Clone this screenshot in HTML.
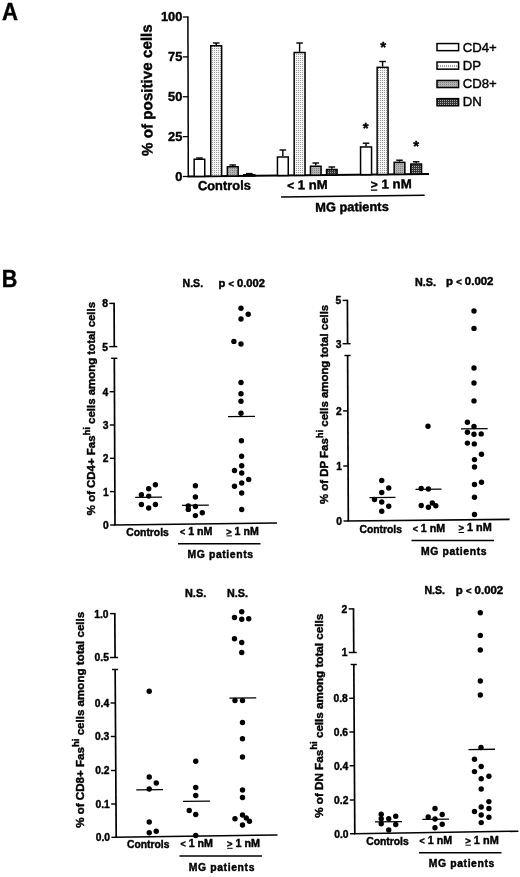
<!DOCTYPE html>
<html lang="en"><head><meta charset="utf-8"><title>Figure</title>
<style>
html,body{margin:0;padding:0;background:#fff;}
svg{display:block;}
text{font-family:"Liberation Sans",Arial,Helvetica,sans-serif;fill:#000;stroke:#000;stroke-width:0.42px;}
text.n{stroke-width:0.4px;}
</style></head>
<body>
<svg width="520" height="877" viewBox="0 0 520 877">
<defs>
<filter id="soft" x="0" y="0" width="520" height="877" filterUnits="userSpaceOnUse"><feGaussianBlur stdDeviation="0.4"/></filter>
<pattern id="pdp" width="2" height="2" patternUnits="userSpaceOnUse"><rect width="2" height="2" fill="#f4f4f4"/><rect width="1" height="1" fill="#9a9a9a"/></pattern>
<pattern id="pc8" width="2" height="2" patternUnits="userSpaceOnUse"><rect width="2" height="2" fill="#b2b2b2"/><rect width="1" height="1" fill="#808080"/></pattern>
<pattern id="ldp" width="2" height="9" patternUnits="userSpaceOnUse" y="61"><rect width="2" height="9" fill="#fbfbfb"/><rect y="4" width="1" height="2" fill="#a0a0a0"/></pattern>
<pattern id="pdn" width="2" height="2" patternUnits="userSpaceOnUse"><rect width="2" height="2" fill="#363636"/><rect width="1" height="1" fill="#a8a8a8"/></pattern>
</defs>
<rect width="520" height="877" fill="#fff"/>
<g filter="url(#soft)">
<text x="1.9" y="20.4" font-size="24.3" font-weight="bold" text-anchor="start" textLength="16" lengthAdjust="spacingAndGlyphs" >A</text>
<line x1="187.9" y1="16.4" x2="188.3" y2="176.5" stroke="#000" stroke-width="1.5"/>
<line x1="182.8" y1="176.5" x2="188.3" y2="176.5" stroke="#000" stroke-width="1.3"/>
<text x="182.3" y="180.9" font-size="12.8" font-weight="bold" text-anchor="end" >0</text>
<line x1="182.8" y1="136.625" x2="188.3" y2="136.625" stroke="#000" stroke-width="1.3"/>
<text x="182.3" y="141.025" font-size="12.8" font-weight="bold" text-anchor="end" >25</text>
<line x1="182.8" y1="96.75" x2="188.3" y2="96.75" stroke="#000" stroke-width="1.3"/>
<text x="182.3" y="101.15" font-size="12.8" font-weight="bold" text-anchor="end" >50</text>
<line x1="182.8" y1="56.875" x2="188.3" y2="56.875" stroke="#000" stroke-width="1.3"/>
<text x="182.3" y="61.275" font-size="12.8" font-weight="bold" text-anchor="end" >75</text>
<line x1="182.8" y1="17.0" x2="188.3" y2="17.0" stroke="#000" stroke-width="1.3"/>
<text x="182.3" y="21.4" font-size="12.8" font-weight="bold" text-anchor="end" >100</text>
<text transform="translate(152.6,156) rotate(-90.4)" font-size="15.2" font-weight="bold" textLength="131.8" lengthAdjust="spacingAndGlyphs">% of positive cells</text>
<line x1="187.60000000000002" y1="176.49688" x2="429" y2="173.9936" stroke="#000" stroke-width="1.9"/>
<line x1="199.45" y1="158" x2="199.45" y2="158.5" stroke="#000" stroke-width="1.4"/>
<line x1="196.14999999999998" y1="158" x2="202.75" y2="158" stroke="#000" stroke-width="1.4"/>
<rect x="194.15" y="159.25" width="10.60" height="17.13" fill="#fff" stroke="#000" stroke-width="1.5"/>
<line x1="216.2" y1="43" x2="216.2" y2="45" stroke="#000" stroke-width="1.4"/>
<line x1="212.89999999999998" y1="43" x2="219.5" y2="43" stroke="#000" stroke-width="1.4"/>
<rect x="210.75" y="45.75" width="10.90" height="130.46" fill="url(#pdp)" stroke="#000" stroke-width="1.5"/>
<line x1="232.75" y1="165" x2="232.75" y2="166" stroke="#000" stroke-width="1.4"/>
<line x1="229.45" y1="165" x2="236.05" y2="165" stroke="#000" stroke-width="1.4"/>
<rect x="227.35" y="166.75" width="10.80" height="9.28" fill="url(#pc8)" stroke="#000" stroke-width="1.5"/>
<line x1="249.25" y1="173.6" x2="249.25" y2="174" stroke="#000" stroke-width="1.4"/>
<line x1="245.95" y1="173.6" x2="252.55" y2="173.6" stroke="#000" stroke-width="1.4"/>
<rect x="243.75" y="174.75" width="11.00" height="1.11" fill="url(#pdn)" stroke="#000" stroke-width="1.5"/>
<line x1="282.85" y1="150" x2="282.85" y2="156.25" stroke="#000" stroke-width="1.4"/>
<line x1="279.55" y1="150" x2="286.15000000000003" y2="150" stroke="#000" stroke-width="1.4"/>
<rect x="277.45" y="157.0" width="10.80" height="18.51" fill="#fff" stroke="#000" stroke-width="1.5"/>
<line x1="299.6" y1="43" x2="299.6" y2="51.75" stroke="#000" stroke-width="1.4"/>
<line x1="296.3" y1="43" x2="302.90000000000003" y2="43" stroke="#000" stroke-width="1.4"/>
<rect x="294.15" y="52.5" width="10.90" height="122.84" fill="url(#pdp)" stroke="#000" stroke-width="1.5"/>
<line x1="315.75" y1="163" x2="315.75" y2="165.5" stroke="#000" stroke-width="1.4"/>
<line x1="312.45" y1="163" x2="319.05" y2="163" stroke="#000" stroke-width="1.4"/>
<rect x="310.45" y="166.25" width="10.60" height="8.92" fill="url(#pc8)" stroke="#000" stroke-width="1.5"/>
<line x1="331.8" y1="167" x2="331.8" y2="168.75" stroke="#000" stroke-width="1.4"/>
<line x1="328.5" y1="167" x2="335.1" y2="167" stroke="#000" stroke-width="1.4"/>
<rect x="326.55" y="169.5" width="10.50" height="5.50" fill="url(#pdn)" stroke="#000" stroke-width="1.5"/>
<line x1="366.05" y1="143.2" x2="366.05" y2="146.2" stroke="#000" stroke-width="1.4"/>
<line x1="362.75" y1="143.2" x2="369.35" y2="143.2" stroke="#000" stroke-width="1.4"/>
<rect x="360.55" y="146.95" width="11.00" height="27.70" fill="#fff" stroke="#000" stroke-width="1.5"/>
<line x1="382.6" y1="61.5" x2="382.6" y2="66.6" stroke="#000" stroke-width="1.4"/>
<line x1="379.3" y1="61.5" x2="385.90000000000003" y2="61.5" stroke="#000" stroke-width="1.4"/>
<rect x="377.15" y="67.35" width="10.90" height="107.13" fill="url(#pdp)" stroke="#000" stroke-width="1.5"/>
<line x1="399.5" y1="160.2" x2="399.5" y2="161.6" stroke="#000" stroke-width="1.4"/>
<line x1="396.2" y1="160.2" x2="402.8" y2="160.2" stroke="#000" stroke-width="1.4"/>
<rect x="394.15" y="162.35" width="10.70" height="11.95" fill="url(#pc8)" stroke="#000" stroke-width="1.5"/>
<line x1="416.15" y1="161.8" x2="416.15" y2="163.3" stroke="#000" stroke-width="1.4"/>
<line x1="412.84999999999997" y1="161.8" x2="419.45" y2="161.8" stroke="#000" stroke-width="1.4"/>
<rect x="410.75" y="164.05" width="10.80" height="10.08" fill="url(#pdn)" stroke="#000" stroke-width="1.5"/>
<text x="365.7" y="133.0" font-size="15" font-weight="bold" text-anchor="middle" stroke-width="0.7">*</text>
<text x="383.2" y="52.099999999999994" font-size="15" font-weight="bold" text-anchor="middle" stroke-width="0.7">*</text>
<text x="416.2" y="151.3" font-size="15" font-weight="bold" text-anchor="middle" stroke-width="0.7">*</text>
<text x="197.9" y="190.3" font-size="13.1" font-weight="bold" text-anchor="start" textLength="53" lengthAdjust="spacingAndGlyphs" transform="rotate(-0.6 198 190)">Controls</text>
<text x="287.3" y="189.4" font-size="12.8" font-weight="bold" text-anchor="start" textLength="40.5" lengthAdjust="spacingAndGlyphs" transform="rotate(-0.6 287 189)"><tspan font-size="11.5">&lt;</tspan> 1 nM</text>
<text x="370.8" y="188.5" font-size="12.8" font-weight="bold" text-anchor="start" textLength="41" lengthAdjust="spacingAndGlyphs" transform="rotate(-0.6 371 188.5)"><tspan font-size="11.5">&gt;</tspan> 1 nM</text>
<line x1="371" y1="190.2" x2="377.3" y2="190.1" stroke="#000" stroke-width="1.2"/>
<line x1="281" y1="197" x2="424.7" y2="195.2" stroke="#000" stroke-width="1.6"/>
<text x="315.2" y="211.7" font-size="12.8" font-weight="bold" text-anchor="start" textLength="73.6" lengthAdjust="spacingAndGlyphs" transform="rotate(-0.6 315 212)">MG patients</text>
<rect x="437" y="43.55" width="21.6" height="7.1" fill="#fff" stroke="#000" stroke-width="1.5"/>
<text x="462.7" y="51.6" font-size="13.2" font-weight="normal" text-anchor="start" class="n">CD4+</text>
<rect x="437" y="62.05" width="21.6" height="7.1" fill="url(#ldp)" stroke="#000" stroke-width="1.5"/>
<text x="462.7" y="69.80000000000001" font-size="13.2" font-weight="normal" text-anchor="start" class="n">DP</text>
<rect x="437" y="80.45" width="21.6" height="7.1" fill="url(#pc8)" stroke="#000" stroke-width="1.5"/>
<text x="462.7" y="88.10000000000001" font-size="13.2" font-weight="normal" text-anchor="start" class="n">CD8+</text>
<rect x="437" y="98.65" width="21.6" height="7.1" fill="url(#pdn)" stroke="#000" stroke-width="1.5"/>
<text x="462.7" y="106.4" font-size="13.2" font-weight="normal" text-anchor="start" class="n">DN</text>
<text x="1.7" y="286.8" font-size="24.6" font-weight="bold" text-anchor="start" textLength="15.6" lengthAdjust="spacingAndGlyphs" >B</text>
<line x1="114.32113122171945" y1="358.3" x2="115.0" y2="525" stroke="#000" stroke-width="1.7"/>
<line x1="111.12113122171945" y1="358.3" x2="117.32113122171945" y2="358.3" stroke="#000" stroke-width="1.45"/>
<line x1="110.2" y1="525" x2="115.0" y2="525" stroke="#000" stroke-width="1.45"/>
<text x="108.8" y="528.9" font-size="10.3" font-weight="bold" text-anchor="end" >0</text>
<line x1="110.06398190045249" y1="491.6" x2="114.86398190045249" y2="491.6" stroke="#000" stroke-width="1.45"/>
<text x="108.66" y="495.5" font-size="10.3" font-weight="bold" text-anchor="end" >1</text>
<line x1="109.92837104072399" y1="458.3" x2="114.72837104072399" y2="458.3" stroke="#000" stroke-width="1.45"/>
<text x="108.53" y="462.2" font-size="10.3" font-weight="bold" text-anchor="end" >2</text>
<line x1="109.79276018099547" y1="425" x2="114.59276018099547" y2="425" stroke="#000" stroke-width="1.45"/>
<text x="108.39" y="428.9" font-size="10.3" font-weight="bold" text-anchor="end" >3</text>
<line x1="109.65714932126697" y1="391.7" x2="114.45714932126697" y2="391.7" stroke="#000" stroke-width="1.45"/>
<text x="108.26" y="395.59999999999997" font-size="10.3" font-weight="bold" text-anchor="end" >4</text>
<line x1="114.09755656108597" y1="302.79999999999995" x2="114.27348416289593" y2="346.6" stroke="#000" stroke-width="1.7"/>
<line x1="109.29755656108597" y1="303.4" x2="114.09755656108597" y2="303.4" stroke="#000" stroke-width="1.45"/>
<text x="107.9" y="307.29999999999995" font-size="10.3" font-weight="bold" text-anchor="end" >8</text>
<line x1="109.27348416289593" y1="346.6" x2="117.27348416289593" y2="346.6" stroke="#000" stroke-width="1.45"/>
<text x="108.07" y="350.5" font-size="10.3" font-weight="bold" text-anchor="end" >5</text>
<line x1="114.2" y1="525" x2="277" y2="523" stroke="#000" stroke-width="1.6"/>
<text transform="translate(95,515.2) rotate(-90)" font-size="11.4" font-weight="bold" textLength="213.3" lengthAdjust="spacingAndGlyphs">% of CD4+ Fas<tspan dy="-5.2" font-size="9.4">hi</tspan><tspan dy="5.2"> cells among total cells</tspan></text>
<circle cx="155.4" cy="484.8" r="2.7"/>
<circle cx="148.7" cy="488.7" r="2.7"/>
<circle cx="141.4" cy="494.8" r="2.7"/>
<circle cx="148.7" cy="496.1" r="2.7"/>
<circle cx="141.4" cy="504.5" r="2.7"/>
<circle cx="155.4" cy="504.5" r="2.7"/>
<circle cx="148.7" cy="508" r="2.7"/>
<line x1="135.2" y1="497.45" x2="162" y2="497.15000000000003" stroke="#000" stroke-width="1.35"/>
<circle cx="195.4" cy="485.8" r="2.7"/>
<circle cx="195.4" cy="497" r="2.7"/>
<circle cx="188.3" cy="506" r="2.7"/>
<circle cx="195.4" cy="506.5" r="2.7"/>
<circle cx="188.3" cy="509.4" r="2.7"/>
<circle cx="202.3" cy="512.7" r="2.7"/>
<circle cx="195.4" cy="515.6" r="2.7"/>
<line x1="182" y1="505.34999999999997" x2="208.8" y2="505.05" stroke="#000" stroke-width="1.35"/>
<circle cx="241" cy="308.3" r="2.7"/>
<circle cx="248.2" cy="314.2" r="2.7"/>
<circle cx="241" cy="319" r="2.7"/>
<circle cx="233.9" cy="341.4" r="2.7"/>
<circle cx="241" cy="344" r="2.7"/>
<circle cx="241" cy="382.5" r="2.7"/>
<circle cx="241" cy="393.8" r="2.7"/>
<circle cx="241" cy="401.3" r="2.7"/>
<circle cx="241" cy="413.3" r="2.7"/>
<circle cx="241.4" cy="440.8" r="2.7"/>
<circle cx="241.6" cy="456.2" r="2.7"/>
<circle cx="241.7" cy="465.7" r="2.7"/>
<circle cx="234.5" cy="470.5" r="2.7"/>
<circle cx="241.7" cy="473" r="2.7"/>
<circle cx="248.7" cy="479.5" r="2.7"/>
<circle cx="241.7" cy="483" r="2.7"/>
<circle cx="234.5" cy="486.3" r="2.7"/>
<circle cx="241.7" cy="493" r="2.7"/>
<circle cx="241.7" cy="509.5" r="2.7"/>
<line x1="228" y1="416.65" x2="255" y2="416.35" stroke="#000" stroke-width="1.35"/>
<text x="126.3" y="535.7" font-size="10.4" font-weight="bold" text-anchor="start" textLength="42.5" lengthAdjust="spacingAndGlyphs" >Controls</text>
<text x="180" y="534.8" font-size="10.4" font-weight="bold" text-anchor="start" textLength="32.5" lengthAdjust="spacingAndGlyphs" ><tspan font-size="8.6">&lt;</tspan> 1 nM</text>
<text x="226.3" y="534.6" font-size="10.4" font-weight="bold" text-anchor="start" textLength="32.5" lengthAdjust="spacingAndGlyphs" ><tspan font-size="9">&gt;</tspan> 1 nM</text>
<line x1="226.5" y1="535.9" x2="231.9" y2="535.9" stroke="#000" stroke-width="1.0"/>
<line x1="178" y1="543.8" x2="260.5" y2="543.8" stroke="#000" stroke-width="1.5"/>
<text x="187.5" y="557.5" font-size="10.4" font-weight="bold" textLength="65.5" lengthAdjust="spacing">MG patients</text>
<text x="182.5" y="287" font-size="10.4" font-weight="bold" text-anchor="start" textLength="20.6" lengthAdjust="spacingAndGlyphs" >N.S.</text>
<text x="218.6" y="286.8" font-size="10.4" font-weight="bold" text-anchor="start" textLength="46.4" lengthAdjust="spacingAndGlyphs" >p <tspan font-size="8.6">&lt;</tspan> 0.002</text>
<line x1="347.6260180995475" y1="355.5" x2="348.3" y2="521" stroke="#000" stroke-width="1.7"/>
<line x1="344.4260180995475" y1="355.5" x2="350.6260180995475" y2="355.5" stroke="#000" stroke-width="1.45"/>
<line x1="343.5" y1="521" x2="348.3" y2="521" stroke="#000" stroke-width="1.45"/>
<text x="342.1" y="524.9" font-size="10.3" font-weight="bold" text-anchor="end" >0</text>
<line x1="343.2760180995475" y1="466" x2="348.0760180995475" y2="466" stroke="#000" stroke-width="1.45"/>
<text x="341.88" y="469.9" font-size="10.3" font-weight="bold" text-anchor="end" >1</text>
<line x1="343.051628959276" y1="410.9" x2="347.851628959276" y2="410.9" stroke="#000" stroke-width="1.45"/>
<text x="341.65" y="414.79999999999995" font-size="10.3" font-weight="bold" text-anchor="end" >2</text>
<line x1="347.40162895927597" y1="299.79999999999995" x2="347.57796380090497" y2="343.7" stroke="#000" stroke-width="1.7"/>
<line x1="342.60162895927596" y1="300.4" x2="347.40162895927597" y2="300.4" stroke="#000" stroke-width="1.45"/>
<text x="341.2" y="304.29999999999995" font-size="10.3" font-weight="bold" text-anchor="end" >5</text>
<line x1="342.57796380090497" y1="343.7" x2="350.57796380090497" y2="343.7" stroke="#000" stroke-width="1.45"/>
<text x="341.38" y="347.59999999999997" font-size="10.3" font-weight="bold" text-anchor="end" >3</text>
<line x1="347.5" y1="521" x2="509.6" y2="519.4" stroke="#000" stroke-width="1.6"/>
<text transform="translate(328.3,504) rotate(-90)" font-size="11.4" font-weight="bold" textLength="199.2" lengthAdjust="spacingAndGlyphs">% of DP Fas<tspan dy="-5.2" font-size="9.4">hi</tspan><tspan dy="5.2"> cells among total cells</tspan></text>
<circle cx="381.75" cy="480.5" r="2.7"/>
<circle cx="388.75" cy="488" r="2.7"/>
<circle cx="381.75" cy="492.5" r="2.7"/>
<circle cx="374.5" cy="499.5" r="2.7"/>
<circle cx="381.75" cy="502" r="2.7"/>
<circle cx="388.75" cy="506.25" r="2.7"/>
<circle cx="381.75" cy="511.25" r="2.7"/>
<line x1="369.5" y1="497.65" x2="395.5" y2="497.35" stroke="#000" stroke-width="1.35"/>
<circle cx="428" cy="426.2" r="2.7"/>
<circle cx="421.2" cy="488.5" r="2.7"/>
<circle cx="428.4" cy="489" r="2.7"/>
<circle cx="421.2" cy="505.5" r="2.7"/>
<circle cx="428.4" cy="507.2" r="2.7"/>
<circle cx="432.3" cy="503" r="2.7"/>
<circle cx="435.8" cy="505.7" r="2.7"/>
<line x1="415.5" y1="489.34999999999997" x2="441.5" y2="489.05" stroke="#000" stroke-width="1.35"/>
<circle cx="474" cy="311" r="2.7"/>
<circle cx="474" cy="328.4" r="2.7"/>
<circle cx="474" cy="368" r="2.7"/>
<circle cx="474" cy="383" r="2.7"/>
<circle cx="474" cy="400.9" r="2.7"/>
<circle cx="467.4" cy="422.3" r="2.7"/>
<circle cx="474" cy="426.5" r="2.7"/>
<circle cx="467.4" cy="432.2" r="2.7"/>
<circle cx="474" cy="434.3" r="2.7"/>
<circle cx="481.2" cy="433.9" r="2.7"/>
<circle cx="467.4" cy="443.1" r="2.7"/>
<circle cx="474.3" cy="443.9" r="2.7"/>
<circle cx="481.5" cy="454.3" r="2.7"/>
<circle cx="474.5" cy="459.6" r="2.7"/>
<circle cx="474.5" cy="467" r="2.7"/>
<circle cx="481.5" cy="482.2" r="2.7"/>
<circle cx="474.5" cy="484.5" r="2.7"/>
<circle cx="474.5" cy="497.2" r="2.7"/>
<circle cx="474.5" cy="514.5" r="2.7"/>
<line x1="461" y1="428.95" x2="487.7" y2="428.65000000000003" stroke="#000" stroke-width="1.35"/>
<text x="359.5" y="532.5" font-size="10.4" font-weight="bold" text-anchor="start" textLength="42.5" lengthAdjust="spacingAndGlyphs" >Controls</text>
<text x="412.7" y="531.5" font-size="10.4" font-weight="bold" text-anchor="start" textLength="32.5" lengthAdjust="spacingAndGlyphs" ><tspan font-size="8.6">&lt;</tspan> 1 nM</text>
<text x="458.5" y="531.2" font-size="10.4" font-weight="bold" text-anchor="start" textLength="33.3" lengthAdjust="spacingAndGlyphs" ><tspan font-size="9">&gt;</tspan> 1 nM</text>
<line x1="458.7" y1="532.5" x2="464.1" y2="532.5" stroke="#000" stroke-width="1.0"/>
<line x1="411.5" y1="540.6" x2="494" y2="540.6" stroke="#000" stroke-width="1.5"/>
<text x="421" y="555" font-size="10.4" font-weight="bold" textLength="65.5" lengthAdjust="spacing">MG patients</text>
<text x="415" y="285.8" font-size="10.4" font-weight="bold" text-anchor="start" textLength="21" lengthAdjust="spacingAndGlyphs" >N.S.</text>
<text x="446" y="285.3" font-size="10.4" font-weight="bold" text-anchor="start" textLength="47.5" lengthAdjust="spacingAndGlyphs" >p <tspan font-size="8.6">&lt;</tspan> 0.002</text>
<line x1="115.153125" y1="669.5" x2="116.201875" y2="837.3" stroke="#000" stroke-width="1.7"/>
<line x1="111.953125" y1="669.5" x2="118.153125" y2="669.5" stroke="#000" stroke-width="1.45"/>
<line x1="111.401875" y1="837.3" x2="116.201875" y2="837.3" stroke="#000" stroke-width="1.45"/>
<text x="110.0" y="841.1999999999999" font-size="10.3" font-weight="bold" text-anchor="end" >0.0</text>
<line x1="111.19375000000001" y1="804" x2="115.99375" y2="804" stroke="#000" stroke-width="1.45"/>
<text x="109.79" y="807.9" font-size="10.3" font-weight="bold" text-anchor="end" >0.1</text>
<line x1="110.984375" y1="770.5" x2="115.784375" y2="770.5" stroke="#000" stroke-width="1.45"/>
<text x="109.58" y="774.4" font-size="10.3" font-weight="bold" text-anchor="end" >0.2</text>
<line x1="110.77187500000001" y1="736.5" x2="115.571875" y2="736.5" stroke="#000" stroke-width="1.45"/>
<text x="109.37" y="740.4" font-size="10.3" font-weight="bold" text-anchor="end" >0.3</text>
<line x1="110.5625" y1="703" x2="115.3625" y2="703" stroke="#000" stroke-width="1.45"/>
<text x="109.16" y="706.9" font-size="10.3" font-weight="bold" text-anchor="end" >0.4</text>
<line x1="114.80375" y1="613.0" x2="115.078125" y2="657.5" stroke="#000" stroke-width="1.7"/>
<line x1="110.00375" y1="613.6" x2="114.80375" y2="613.6" stroke="#000" stroke-width="1.45"/>
<text x="108.6" y="617.5" font-size="10.3" font-weight="bold" text-anchor="end" >1.0</text>
<line x1="110.078125" y1="657.5" x2="118.078125" y2="657.5" stroke="#000" stroke-width="1.45"/>
<text x="108.88" y="661.4" font-size="10.3" font-weight="bold" text-anchor="end" >0.5</text>
<line x1="115.401875" y1="837.3" x2="277.5" y2="835" stroke="#000" stroke-width="1.6"/>
<text transform="translate(83.8,827.8) rotate(-90)" font-size="11.4" font-weight="bold" textLength="216" lengthAdjust="spacingAndGlyphs">% of CD8+ Fas<tspan dy="-5.2" font-size="9.4">hi</tspan><tspan dy="5.2"> cells among total cells</tspan></text>
<circle cx="149.25" cy="691.25" r="2.7"/>
<circle cx="149.25" cy="777" r="2.7"/>
<circle cx="156.25" cy="783" r="2.7"/>
<circle cx="149.25" cy="789" r="2.7"/>
<circle cx="149.25" cy="822" r="2.7"/>
<circle cx="156.25" cy="831.25" r="2.7"/>
<circle cx="149.25" cy="832.75" r="2.7"/>
<line x1="136.25" y1="789.9" x2="163" y2="789.6" stroke="#000" stroke-width="1.35"/>
<circle cx="195.75" cy="761.25" r="2.7"/>
<circle cx="195.75" cy="787.5" r="2.7"/>
<circle cx="195.75" cy="795.5" r="2.7"/>
<circle cx="189.25" cy="810.5" r="2.7"/>
<circle cx="195.75" cy="814.5" r="2.7"/>
<circle cx="195.75" cy="835.5" r="2.7"/>
<line x1="183" y1="801.4" x2="210" y2="801.1" stroke="#000" stroke-width="1.35"/>
<circle cx="241.75" cy="611.75" r="2.7"/>
<circle cx="234.5" cy="617.5" r="2.7"/>
<circle cx="241.75" cy="619.25" r="2.7"/>
<circle cx="248.75" cy="618.75" r="2.7"/>
<circle cx="234.5" cy="638.75" r="2.7"/>
<circle cx="241.75" cy="642.5" r="2.7"/>
<circle cx="241.75" cy="652.5" r="2.7"/>
<circle cx="235" cy="700.5" r="2.7"/>
<circle cx="242.5" cy="700.5" r="2.7"/>
<circle cx="242.5" cy="722.5" r="2.7"/>
<circle cx="242.5" cy="738.75" r="2.7"/>
<circle cx="242.5" cy="757" r="2.7"/>
<circle cx="242.5" cy="790" r="2.7"/>
<circle cx="242.5" cy="797.5" r="2.7"/>
<circle cx="235" cy="818.75" r="2.7"/>
<circle cx="242.5" cy="815" r="2.7"/>
<circle cx="246.25" cy="818" r="2.7"/>
<circle cx="249.5" cy="821.25" r="2.7"/>
<circle cx="242.5" cy="825" r="2.7"/>
<line x1="229.5" y1="698.15" x2="256.25" y2="697.85" stroke="#000" stroke-width="1.35"/>
<text x="127" y="848.25" font-size="10.4" font-weight="bold" text-anchor="start" textLength="42.5" lengthAdjust="spacingAndGlyphs" >Controls</text>
<text x="180.5" y="847.2" font-size="10.4" font-weight="bold" text-anchor="start" textLength="32.5" lengthAdjust="spacingAndGlyphs" ><tspan font-size="8.6">&lt;</tspan> 1 nM</text>
<text x="227" y="847" font-size="10.4" font-weight="bold" text-anchor="start" textLength="33" lengthAdjust="spacingAndGlyphs" ><tspan font-size="9">&gt;</tspan> 1 nM</text>
<line x1="227.2" y1="848.3" x2="232.6" y2="848.3" stroke="#000" stroke-width="1.0"/>
<line x1="179.5" y1="856" x2="262" y2="856" stroke="#000" stroke-width="1.5"/>
<text x="188.75" y="870.5" font-size="10.4" font-weight="bold" textLength="65.7" lengthAdjust="spacing">MG patients</text>
<text x="185" y="597" font-size="10.4" font-weight="bold" text-anchor="start" textLength="21.2" lengthAdjust="spacingAndGlyphs" >N.S.</text>
<text x="227" y="596.6" font-size="10.4" font-weight="bold" text-anchor="start" textLength="21" lengthAdjust="spacingAndGlyphs" >N.S.</text>
<line x1="353.8206666666667" y1="664.5" x2="354.79884444444446" y2="833.8" stroke="#000" stroke-width="1.7"/>
<line x1="350.6206666666667" y1="664.5" x2="356.8206666666667" y2="664.5" stroke="#000" stroke-width="1.45"/>
<line x1="349.9985555555556" y1="833.75" x2="354.7985555555556" y2="833.75" stroke="#000" stroke-width="1.45"/>
<text x="348.6" y="837.65" font-size="10.3" font-weight="bold" text-anchor="end" >0.0</text>
<line x1="349.80355555555553" y1="800" x2="354.60355555555554" y2="800" stroke="#000" stroke-width="1.45"/>
<text x="348.4" y="803.9" font-size="10.3" font-weight="bold" text-anchor="end" >0.2</text>
<line x1="349.60566666666665" y1="765.75" x2="354.40566666666666" y2="765.75" stroke="#000" stroke-width="1.45"/>
<text x="348.21" y="769.65" font-size="10.3" font-weight="bold" text-anchor="end" >0.4</text>
<line x1="349.41066666666666" y1="732" x2="354.21066666666667" y2="732" stroke="#000" stroke-width="1.45"/>
<text x="348.01" y="735.9" font-size="10.3" font-weight="bold" text-anchor="end" >0.6</text>
<line x1="349.21566666666666" y1="698.25" x2="354.0156666666667" y2="698.25" stroke="#000" stroke-width="1.45"/>
<text x="347.82" y="702.15" font-size="10.3" font-weight="bold" text-anchor="end" >0.8</text>
<line x1="353.4994222222222" y1="608.3" x2="353.7513333333333" y2="652.5" stroke="#000" stroke-width="1.7"/>
<line x1="348.6994222222222" y1="608.9" x2="353.4994222222222" y2="608.9" stroke="#000" stroke-width="1.45"/>
<text x="347.3" y="612.8" font-size="10.3" font-weight="bold" text-anchor="end" >2</text>
<line x1="348.7513333333333" y1="652.5" x2="356.7513333333333" y2="652.5" stroke="#000" stroke-width="1.45"/>
<text x="347.55" y="656.4" font-size="10.3" font-weight="bold" text-anchor="end" >1</text>
<line x1="353.99884444444444" y1="833.8" x2="518.4" y2="831.2" stroke="#000" stroke-width="1.6"/>
<text transform="translate(322.5,817.8) rotate(-90)" font-size="11.4" font-weight="bold" textLength="204" lengthAdjust="spacingAndGlyphs">% of DN Fas<tspan dy="-5.2" font-size="9.4">hi</tspan><tspan dy="5.2"> cells among total cells</tspan></text>
<circle cx="381.25" cy="814.25" r="2.7"/>
<circle cx="381.25" cy="818.75" r="2.7"/>
<circle cx="388.75" cy="818.75" r="2.7"/>
<circle cx="395.75" cy="816.25" r="2.7"/>
<circle cx="381.25" cy="823.75" r="2.7"/>
<circle cx="395.75" cy="824.5" r="2.7"/>
<circle cx="388.75" cy="830" r="2.7"/>
<line x1="375" y1="821.9" x2="402" y2="821.6" stroke="#000" stroke-width="1.35"/>
<circle cx="435" cy="808.5" r="2.7"/>
<circle cx="428.2" cy="816.9" r="2.7"/>
<circle cx="442.2" cy="814.5" r="2.7"/>
<circle cx="435" cy="819" r="2.7"/>
<circle cx="442.2" cy="824.2" r="2.7"/>
<circle cx="435" cy="827.7" r="2.7"/>
<line x1="422.4" y1="819.35" x2="449" y2="819.0500000000001" stroke="#000" stroke-width="1.35"/>
<circle cx="480.3" cy="612.8" r="2.7"/>
<circle cx="480.3" cy="635.4" r="2.7"/>
<circle cx="480.3" cy="650" r="2.7"/>
<circle cx="480.3" cy="681" r="2.7"/>
<circle cx="480.3" cy="695" r="2.7"/>
<circle cx="481" cy="747.5" r="2.7"/>
<circle cx="474.5" cy="759.3" r="2.7"/>
<circle cx="481.2" cy="766.5" r="2.7"/>
<circle cx="474.5" cy="771.6" r="2.7"/>
<circle cx="488.9" cy="776.2" r="2.7"/>
<circle cx="481.2" cy="778.8" r="2.7"/>
<circle cx="481.2" cy="789" r="2.7"/>
<circle cx="488.9" cy="801.6" r="2.7"/>
<circle cx="481.2" cy="807" r="2.7"/>
<circle cx="488.9" cy="808.5" r="2.7"/>
<circle cx="474.5" cy="811.5" r="2.7"/>
<circle cx="481.2" cy="815" r="2.7"/>
<circle cx="488.9" cy="817.3" r="2.7"/>
<circle cx="481.2" cy="822.6" r="2.7"/>
<line x1="468.5" y1="749.55" x2="495" y2="749.25" stroke="#000" stroke-width="1.35"/>
<text x="366.25" y="844.5" font-size="10.4" font-weight="bold" text-anchor="start" textLength="42.5" lengthAdjust="spacingAndGlyphs" >Controls</text>
<text x="419.6" y="844" font-size="10.4" font-weight="bold" text-anchor="start" textLength="32.5" lengthAdjust="spacingAndGlyphs" ><tspan font-size="8.6">&lt;</tspan> 1 nM</text>
<text x="465.3" y="843.9" font-size="10.4" font-weight="bold" text-anchor="start" textLength="33.5" lengthAdjust="spacingAndGlyphs" ><tspan font-size="9">&gt;</tspan> 1 nM</text>
<line x1="465.5" y1="845.1999999999999" x2="470.90000000000003" y2="845.1999999999999" stroke="#000" stroke-width="1.0"/>
<line x1="419" y1="852.8" x2="501.5" y2="852.8" stroke="#000" stroke-width="1.5"/>
<text x="428.8" y="867" font-size="10.4" font-weight="bold" textLength="65.5" lengthAdjust="spacing">MG patients</text>
<text x="424.4" y="594" font-size="10.4" font-weight="bold" text-anchor="start" textLength="20.6" lengthAdjust="spacingAndGlyphs" >N.S.</text>
<text x="455.8" y="593.6" font-size="10.4" font-weight="bold" text-anchor="start" textLength="47.4" lengthAdjust="spacingAndGlyphs" >p <tspan font-size="8.6">&lt;</tspan> 0.002</text>
</g>
</svg>
</body></html>
